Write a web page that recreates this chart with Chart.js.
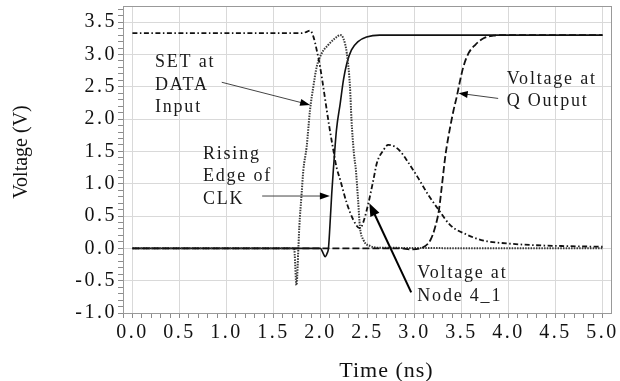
<!DOCTYPE html>
<html>
<head>
<meta charset="utf-8">
<script src="https://cdn.jsdelivr.net/npm/chart.js@4.4.1/dist/chart.umd.min.js"></script>
<style>
  html, body { margin: 0; padding: 0; background: #fff; }
</style>
</head>
<body>
<canvas id="waves" width="620" height="381"></canvas>
<script>
// waveforms (time in ns, voltage in V)
const clkT = [0, 2.0, 2.03, 2.05, 2.07, 2.085, 2.10, 2.12, 2.137, 2.17, 2.21, 2.245, 2.28, 2.33, 2.40, 2.49, 2.63, 5.0];
const clkV = [0, 0, -0.08, -0.13, -0.08, 0, 0.33, 0.85, 1.21, 1.83, 2.24, 2.61, 2.86, 3.07, 3.20, 3.27, 3.30, 3.30];

const setT = [0, 1.72, 1.745, 1.765, 1.775, 1.80, 1.818, 1.853, 1.889, 1.924, 1.96, 2.014, 2.084, 2.155, 2.21,
  2.243, 2.28, 2.314, 2.33, 2.356, 2.377, 2.40, 2.42, 2.457, 2.53, 2.635, 5.0];
const setV = [0, 0, -0.57, 0, 0.33, 0.85, 1.21, 1.57, 2.14, 2.50, 2.81, 3.02, 3.15, 3.25, 3.30,
  3.25, 3.02, 2.50, 1.99, 1.47, 1.21, 0.75, 0.33, 0.13, 0.035, 0.01, 0];

const nodeT = [0, 1.80, 1.853, 1.889, 1.924, 1.96, 1.996, 2.03, 2.067, 2.10, 2.137, 2.17, 2.21, 2.28, 2.35, 2.42,
  2.457, 2.51, 2.563, 2.60, 2.67, 2.72, 2.795, 2.85, 2.92, 3.03, 3.15, 3.26, 3.38, 3.56, 3.735, 3.98, 4.27, 4.62, 5.0];
const nodeV = [3.33, 3.33, 3.35, 3.37, 3.28, 3.07, 2.81, 2.50, 2.14, 1.83, 1.52, 1.26, 1.06, 0.70, 0.44, 0.31,
  0.41, 0.70, 1.06, 1.32, 1.52, 1.60, 1.57, 1.50, 1.36, 1.11, 0.82, 0.59, 0.36, 0.21, 0.12, 0.077, 0.05, 0.035, 0.025];

const qT = [0, 2.85, 2.955, 3.06, 3.17, 3.22, 3.26, 3.29, 3.33, 3.38, 3.416, 3.45, 3.487, 3.52, 3.575, 3.647, 3.735, 3.84, 3.95, 5.0];
const qV = [0, 0, -0.015, 0, 0.13, 0.33, 0.59, 0.95, 1.45, 1.88, 2.14, 2.35, 2.61, 2.81, 3.02, 3.15, 3.25, 3.29, 3.30, 3.30];

// labelled ticks
const xMajor = [0, 0.5, 1, 1.5, 2, 2.5, 3, 3.5, 4, 4.5, 5];
const yMajor = [-1, -0.5, 0, 0.5, 1, 1.5, 2, 2.5, 3, 3.5];

// callouts, anchored in data units
const notes = [
  {lines: ['SET at', 'DATA', 'Input'], x: 0.24, y: 2.81},
  {lines: ['Rising', 'Edge of', 'CLK'], x: 0.75, y: 1.39},
  {lines: ['Voltage at', 'Q Output'], x: 3.98, y: 2.55},
  {lines: ['Voltage at', 'Node 4_1'], x: 3.03, y: -0.46}
];
const pointers = [
  {from: [0.95, 2.57], to: [1.89, 2.22], w: 1, head: 10, half: 3.5},
  {from: [1.38, 0.81], to: [2.10, 0.81], w: 1, head: 10, half: 3.5},
  {from: [3.89, 2.32], to: [3.47, 2.40], w: 1, head: 9, half: 3.5},
  {from: [2.965, -0.68], to: [2.52, 0.70], w: 2, head: 13, half: 5}
];

const pts = (t, v) => t.map((x, i) => ({x: x, y: v[i]}));
const inList = (list, v) => list.some(m => Math.abs(m - v) < 1e-6);
const SERIF = '"Liberation Serif", "Times New Roman", serif';

function arrow(ctx, x1, y1, x2, y2, p) {
  const a = Math.atan2(y2 - y1, x2 - x1), c = Math.cos(a), s = Math.sin(a);
  ctx.strokeStyle = p.w > 1 ? '#000' : '#444';
  ctx.lineWidth = p.w;
  ctx.beginPath();
  ctx.moveTo(x1, y1);
  ctx.lineTo(x2 - c * p.head * 0.8, y2 - s * p.head * 0.8);
  ctx.stroke();
  ctx.fillStyle = '#000';
  ctx.beginPath();
  ctx.moveTo(x2, y2);
  ctx.lineTo(x2 - p.head * c + p.half * s, y2 - p.head * s - p.half * c);
  ctx.lineTo(x2 - p.head * c - p.half * s, y2 - p.head * s + p.half * c);
  ctx.closePath();
  ctx.fill();
}

const overlay = {
  id: 'overlay',
  beforeDraw(chart) { chart.ctx.letterSpacing = '2.5px'; },
  afterDraw(chart) {
    const {ctx, chartArea: a} = chart;
    const x = chart.scales.x, y = chart.scales.y;
    ctx.save();
    ctx.strokeStyle = '#999';
    ctx.lineWidth = 1;
    ctx.strokeRect(a.left + 0.5, a.top + 0.5, a.right - a.left, a.bottom - a.top);

    pointers.forEach(p => arrow(ctx, x.getPixelForValue(p.from[0]), y.getPixelForValue(p.from[1]),
      x.getPixelForValue(p.to[0]), y.getPixelForValue(p.to[1]), p));

    ctx.fillStyle = '#1a1a1a';
    ctx.font = '18px ' + SERIF;
    ctx.letterSpacing = '1.8px';
    ctx.textAlign = 'left';
    ctx.textBaseline = 'alphabetic';
    notes.forEach(n => {
      const px = x.getPixelForValue(n.x), py = y.getPixelForValue(n.y);
      n.lines.forEach((t, i) => ctx.fillText(t, px, py + i * 22.8));
    });

    // axis titles
    ctx.fillStyle = '#111';
    ctx.font = '22px ' + SERIF;
    ctx.letterSpacing = '1px';
    ctx.textAlign = 'center';
    ctx.fillText('Time (ns)', 386.5, 376.5);
    ctx.font = '20px ' + SERIF;
    ctx.letterSpacing = '0px';
    ctx.translate(22, 152);
    ctx.rotate(-Math.PI / 2);
    ctx.textBaseline = 'middle';
    ctx.fillText('Voltage (V)', 0, 0);
    ctx.restore();
  }
};

function axis(list, min, max, fitFn) {
  return {
    type: 'linear',
    min: min,
    max: max,
    afterFit: fitFn,
    border: {display: false},
    grid: {
      color: c => inList(list, c.tick.value) ? '#d9d9d9' : 'rgba(0,0,0,0)',
      tickColor: '#8c8c8c',
      tickLength: 5,
      lineWidth: 1
    },
    ticks: {
      stepSize: 0.1,
      includeBounds: false,
      autoSkip: false,
      maxRotation: 0,
      color: '#111',
      font: {family: SERIF, size: 20},
      callback: v => inList(list, v) ? (Math.abs(v) < 1e-9 ? 0 : v).toFixed(1) : ''
    }
  };
}

const xAxis = axis(xMajor, -0.1, 5.09, s => { s.height = 68; s.paddingLeft = 0; s.paddingRight = 0; });
xAxis.ticks.padding = 3;
const yAxis = axis(yMajor, -1, 3.75, s => { s.width = 123; s.paddingTop = 0; s.paddingBottom = 0; });
yAxis.ticks.padding = 1;

new Chart(document.getElementById('waves'), {
  type: 'line',
  data: {
    datasets: [
      {label: 'Q Output', data: pts(qT, qV), borderColor: '#111', borderWidth: 1.8, borderDash: [7, 3]},
      {label: 'Node 4_1', data: pts(nodeT, nodeV), borderColor: '#111', borderWidth: 1.8, borderDash: [5, 2.5, 1.5, 2.5]},
      {label: 'SET at DATA', data: pts(setT, setV), borderColor: '#3a3a3a', borderWidth: 2, borderDash: [1.5, 1.2]},
      {label: 'CLK', data: pts(clkT, clkV), borderColor: '#111', borderWidth: 1.6}
    ]
  },
  options: {
    responsive: false,
    animation: false,
    devicePixelRatio: 1,
    layout: {padding: {left: 0, right: 9, top: 6, bottom: 0}},
    elements: {
      point: {radius: 0, hoverRadius: 0},
      line: {cubicInterpolationMode: 'monotone', fill: false}
    },
    plugins: {
      legend: {display: false},
      tooltip: {enabled: false}
    },
    scales: {x: xAxis, y: yAxis}
  },
  plugins: [overlay]
});
</script>
</body>
</html>
